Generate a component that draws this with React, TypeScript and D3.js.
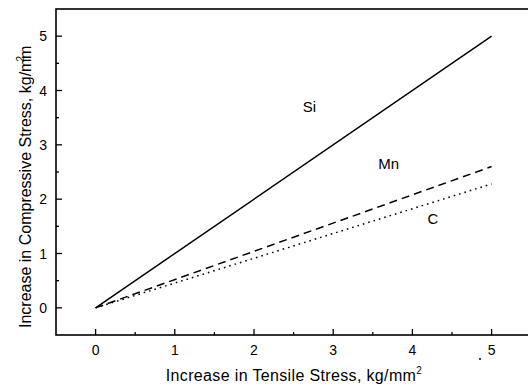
import React, { useEffect, useRef } from 'react';
import * as d3 from 'd3';

// stress data (x = tensile increase, y = compressive increase)
const xValues = [0, 5];
const siValues = [0, 5];
const mnValues = [0, 2.6];
const cValues = [0, 2.28];
const majorTicks = [0, 1, 2, 3, 4, 5];
const minorTicks = [0.5, 1.5, 2.5, 3.5, 4.5];
const seriesNames = ['Si', 'Mn', 'C'];
const labelPos = [
  [2.7, 3.6],
  [3.7, 2.55],
  [4.26, 1.55],
];

const W = 528;
const H = 387;

const App: React.FC = () => {
  const ref = useRef<SVGSVGElement | null>(null);

  useEffect(() => {
    const svg = d3.select(ref.current);
    svg.selectAll('*').remove();

    const left = 56;
    const top = 9;
    const bottom = 335;

    const x = d3.scaleLinear().domain([-0.5, 5.5]).range([left, left + 475.2]);
    const y = d3.scaleLinear().domain([-0.5, 5.5]).range([bottom, top]);

    const font = '"Liberation Sans", Arial, sans-serif';

    svg.append('defs')
      .append('clipPath')
      .attr('id', 'clip')
      .append('rect')
      .attr('x', 0)
      .attr('y', 0)
      .attr('width', W)
      .attr('height', H);

    const g = svg.append('g').attr('clip-path', 'url(#clip)');

    // frame
    g.append('rect')
      .attr('x', x(-0.5))
      .attr('y', y(5.5))
      .attr('width', x(5.5) - x(-0.5))
      .attr('height', y(-0.5) - y(5.5))
      .attr('fill', 'none')
      .attr('stroke', '#000')
      .attr('stroke-width', 1.6);

    // x ticks (inward)
    g.selectAll('.xmaj')
      .data(majorTicks)
      .join('line')
      .attr('x1', (d) => x(d))
      .attr('x2', (d) => x(d))
      .attr('y1', bottom)
      .attr('y2', bottom - 6)
      .attr('stroke', '#000')
      .attr('stroke-width', 1.3);
    g.selectAll('.xmin')
      .data(minorTicks)
      .join('line')
      .attr('x1', (d) => x(d))
      .attr('x2', (d) => x(d))
      .attr('y1', bottom)
      .attr('y2', bottom - 3)
      .attr('stroke', '#000')
      .attr('stroke-width', 1.3);

    // y ticks (inward)
    g.selectAll('.ymaj')
      .data(majorTicks)
      .join('line')
      .attr('x1', left)
      .attr('x2', left + 6)
      .attr('y1', (d) => y(d))
      .attr('y2', (d) => y(d))
      .attr('stroke', '#000')
      .attr('stroke-width', 1.3);
    g.selectAll('.ymin')
      .data(minorTicks)
      .join('line')
      .attr('x1', left)
      .attr('x2', left + 3)
      .attr('y1', (d) => y(d))
      .attr('y2', (d) => y(d))
      .attr('stroke', '#000')
      .attr('stroke-width', 1.3);

    // tick labels
    svg.selectAll('.xl')
      .data(majorTicks)
      .join('text')
      .attr('x', (d) => x(d))
      .attr('y', 355)
      .attr('text-anchor', 'middle')
      .attr('font-family', font)
      .attr('font-size', 14)
      .text((d) => d);
    svg.selectAll('.yl')
      .data(majorTicks)
      .join('text')
      .attr('x', 47)
      .attr('y', (d) => y(d) + 5)
      .attr('text-anchor', 'end')
      .attr('font-family', font)
      .attr('font-size', 14)
      .text((d) => d);

    // series
    const series = [siValues, mnValues, cValues];
    const dashes = [null, '8,5', '1.6,4'];
    const line = d3
      .line<number>()
      .x((_, i) => x(xValues[i]))
      .y((d) => y(d));
    series.forEach((s, i) => {
      g.append('path')
        .attr('d', line(s))
        .attr('fill', 'none')
        .attr('stroke', '#000')
        .attr('stroke-width', 1.5)
        .attr('stroke-dasharray', dashes[i]);
    });

    seriesNames.forEach((n, i) => {
      svg.append('text')
        .attr('x', x(labelPos[i][0]))
        .attr('y', y(labelPos[i][1]))
        .attr('text-anchor', 'middle')
        .attr('font-family', font)
        .attr('font-size', 15)
        .text(n);
    });

    // axis titles
    const xt = svg.append('text')
      .attr('x', 294)
      .attr('y', 381)
      .attr('text-anchor', 'middle')
      .attr('font-family', font)
      .attr('font-size', 16)
      .attr('letter-spacing', 0.35);
    xt.append('tspan').text('Increase in Tensile Stress, kg/mm');
    xt.append('tspan').attr('dy', -7).attr('font-size', 10).text('2');

    const yt = svg.append('text')
      .attr('transform', 'translate(31,176) rotate(-90)')
      .attr('text-anchor', 'start')
      .attr('x', -152)
      .attr('font-family', font)
      .attr('font-size', 16);
    yt.append('tspan').text('Increase in Compressive Stress, kg/m');
    yt.append('tspan').attr('dy', -7).attr('dx', -3).attr('font-size', 10).text('2');
    yt.append('tspan').attr('dy', 7).attr('dx', -3).text('m');

    // stray scan specks
    svg.append('circle').attr('cx', 480).attr('cy', 359).attr('r', 1).attr('fill', '#000');
    svg.append('circle').attr('cx', 25).attr('cy', 286).attr('r', 0.8).attr('fill', '#333');
  }, []);

  return (
    <svg
      ref={ref}
      width={W}
      height={H}
      style={{ position: 'fixed', left: 0, top: 0, background: '#fff' }}
    />
  );
};

export default App;
